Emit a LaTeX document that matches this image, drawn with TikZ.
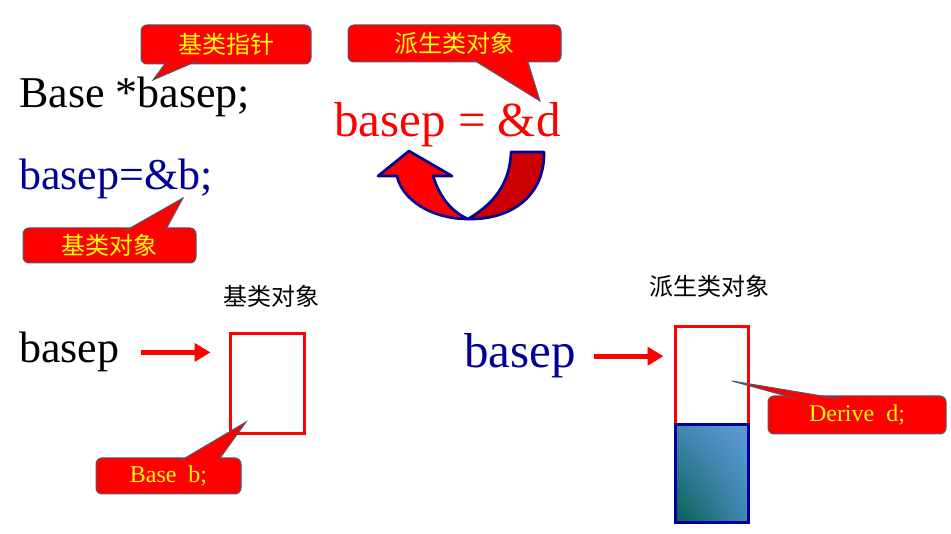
\documentclass[tikz,border=0pt]{standalone}
\usepackage{fontspec}
\setmainfont{Liberation Serif}
\newfontfamily\cjk{Noto Sans CJK SC}
\usepackage{tikz}
\usetikzlibrary{arrows.meta,shadings}

\begin{document}
\begin{tikzpicture}[x=0.75pt,y=0.75pt,yscale=-1,xscale=1,
  code/.style={anchor=base west, inner sep=0.75pt, font=\fontsize{33}{36}\selectfont},
  bigcode/.style={code, font=\fontsize{36.75}{40}\selectfont},
  objname/.style={inner sep=0.75pt, font=\cjk\fontsize{18}{20}\selectfont},
  callout/.style={draw={rgb, 255:red, 80; green, 90; blue, 110}, fill={rgb, 255:red, 255; green, 0; blue, 0}, rounded corners=4.5pt, line width=0.75pt, inner sep=0pt, text={rgb, 255:red, 255; green, 255; blue, 0}, font=\cjk\fontsize{18}{20}\selectfont},
  pointer/.style={draw={rgb, 255:red, 80; green, 90; blue, 110}, fill={rgb, 255:red, 255; green, 0; blue, 0}, line width=0.75pt},
  ptrarrow/.style={draw={rgb, 255:red, 255; green, 0; blue, 0}, line width=3.75pt, -{Triangle[length=12pt,width=13.5pt]}},
  objbox/.style={draw={rgb, 255:red, 255; green, 0; blue, 0}, line width=2.25pt, minimum width=55.5pt, minimum height=75pt}
  ]
\useasboundingbox (0,0) rectangle (951,534);

% Text Node
\node[code] (decl) at (18,108) {Base *basep;};
% Text Node
\node[code, text={rgb, 255:red, 0; green, 0; blue, 153}] (assignB) at (18,190) {basep=\&b;};
% Text Node
\node[bigcode, text={rgb, 255:red, 255; green, 0; blue, 0}] (assignD) at (333,137) {basep = \&d};

%Shape: U-turn arrow, back part
\draw [draw={rgb, 255:red, 0; green, 0; blue, 153}, line width=2pt, line join=round, fill={rgb, 255:red, 204; green, 0; blue, 0}] (511,152) -- (544,152) .. controls (545,195) and (512,220) .. (468,219) .. controls (492,205) and (510,185) .. (511,152) -- cycle ;
%Shape: U-turn arrow, front part
\draw [draw={rgb, 255:red, 0; green, 0; blue, 153}, line width=2pt, line join=round, fill={rgb, 255:red, 255; green, 0; blue, 0}] (468,219) .. controls (432,219) and (402,200) .. (397,176) -- (378,176) -- (409,151) -- (452,176) -- (433,176) .. controls (440,198) and (452,212) .. (468,219) -- cycle ;

% Base object
\node[code] (basepB) at (18,363) {basep};
\node[objname] (nameB) at (271,296) {基类对象};
\node[objbox] (objB) at (267,384) {};
\draw[ptrarrow, shorten <=15pt, shorten >=13.5pt] (basepB.east) -- (basepB.east -| objB.west);

% Derived object
\node[bigcode, text={rgb, 255:red, 0; green, 0; blue, 153}] (basepD) at (463,368) {basep};
\node[objname] (nameD) at (709,286) {派生类对象};
\node[objbox, minimum width=54.75pt, minimum height=73.5pt] (objDtop) at (711.5,376) {};
\node[objbox, minimum width=54.75pt, minimum height=73.5pt, draw={rgb, 255:red, 0; green, 0; blue, 153},
  lower left={rgb, 255:red, 5; green, 95; blue, 80}, upper right={rgb, 255:red, 95; green, 155; blue, 215},
  upper left={rgb, 255:red, 65; green, 135; blue, 180}, lower right={rgb, 255:red, 65; green, 135; blue, 180}] (objDbottom) at (711.5,474) {};
\draw[ptrarrow, shorten <=12.75pt, shorten >=7.5pt] (basepD.east) -- (basepD.east -| objDtop.west);

% Callouts
\node[callout, minimum width=127.5pt, minimum height=29.25pt] (noteptr) at (226,44.5) {基类指针};
\coordinate (tipptr) at (153,80);
\filldraw[pointer] (167,61) -- (tipptr) -- (197,61);

\node[callout, minimum width=159.75pt, minimum height=27.75pt] (notederived) at (454.5,43.5) {派生类对象};
\coordinate (tipderived) at (540,101);
\filldraw[pointer] (472,59) -- (tipderived) -- (527,59);

\node[callout, minimum width=129.75pt, minimum height=26.25pt] (notebase) at (109.5,245.5) {基类对象};
\coordinate (tipbase) at (183,198);
\filldraw[pointer] (125,231) -- (tipbase) -- (165,231);

\node[callout, minimum width=108.75pt, minimum height=27pt, font=\fontsize{18}{20}\selectfont] (noteB) at (168.5,476) {Base~~b;};
\coordinate (tipB) at (246,422);
\filldraw[pointer] (180,461) -- (tipB) -- (218,461);

\node[callout, minimum width=133.5pt, minimum height=28.5pt, font=\fontsize{18}{20}\selectfont] (noteD) at (857,415) {Derive~~d;};
\coordinate (tipD) at (732,381);
\filldraw[pointer] (797,399) -- (tipD) -- (840,399);

\end{tikzpicture}
\end{document}
